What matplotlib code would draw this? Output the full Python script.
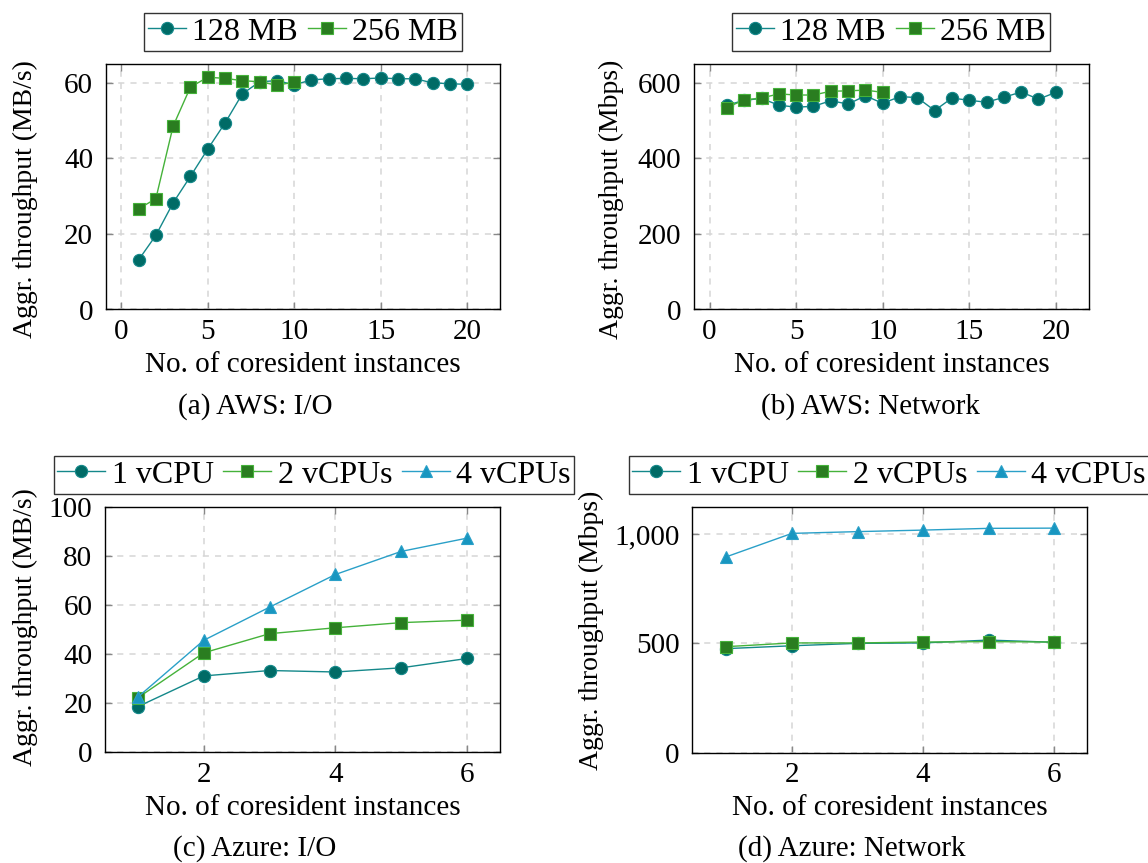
import matplotlib
matplotlib.use("Agg")
import matplotlib.pyplot as plt
from matplotlib.ticker import FuncFormatter

plt.rcParams['font.family'] = ['Liberation Serif', 'DejaVu Serif']
plt.rcParams['font.size'] = 21

W, H = 1148, 863

# AWS data
aws_x = list(range(1, 21))
aws_x256 = list(range(1, 11))
aws_io_128 = [13.1, 19.6, 28.2, 35.2, 42.4, 49.3, 57.0, 60.2, 60.5, 59.4,
              60.7, 61.0, 61.1, 61.0, 61.2, 61.0, 61.0, 59.9, 59.7, 59.5]
aws_io_256 = [26.6, 29.3, 48.5, 58.8, 61.4, 61.1, 60.5, 60.2, 59.3, 60.1]
aws_net_128 = [540, 553, 558, 540, 535, 537, 552, 543, 565, 545,
               563, 560, 526, 559, 553, 548, 561, 575, 556, 574]
aws_net_256 = [534, 554, 559, 570, 567, 567, 577, 578, 580, 574]

# Azure data
az_x = [1, 2, 3, 4, 5, 6]
az_io_1 = [18.6, 31.1, 33.3, 32.7, 34.4, 38.2]
az_io_2 = [22.2, 40.5, 48.3, 50.7, 52.8, 53.8]
az_io_4 = [22.5, 45.6, 59.1, 72.4, 81.8, 87.2]
az_net_1 = [476, 489, 500, 502, 515, 505]
az_net_2 = [485, 502, 502, 506, 508, 506]
az_net_4 = [896, 1003, 1011, 1018, 1026, 1027]

aws_labels = ["128 MB", "256 MB"]
az_labels = ["1 vCPU", "2 vCPUs", "4 vCPUs"]
captions = ["(a) AWS: I/O", "(b) AWS: Network", "(c) Azure: I/O", "(d) Azure: Network"]

# (line color, fill color, marker)
STYLES = [("#14888a", "#006b66", "o"),
          ("#45b23a", "#2a7d20", "s"),
          ("#2aa0c8", "#1896c0", "^")]
MSIZE = {"o": 8.8, "s": 8.0, "^": 8.6}


def make_axes(left, right, top, bottom):
    return fig.add_axes([left / W, 1 - bottom / H, (right - left) / W, (bottom - top) / H])


def style_axes(ax, xlim, ylim, xticks, yticks, ylabel, label_xy):
    ax.set_xlim(*xlim)
    ax.set_ylim(*ylim)
    ax.set_xticks(xticks)
    ax.set_yticks(yticks)
    ax.grid(True, color="#d6d6d6", linestyle=(0, (4, 4)), linewidth=1.1)
    ax.set_axisbelow(True)
    ax.tick_params(direction="in", top=True, right=True, length=5,
                   color="#888888", width=1.0)
    ax.tick_params(axis="x", pad=7)
    ax.tick_params(axis="y", pad=9)
    for s in ax.spines.values():
        s.set_linewidth(1.0)
        s.set_color("black")
    ax.set_xlabel("No. of coresident instances", labelpad=5)
    ax.set_ylabel(ylabel, fontsize=20)
    ax.yaxis.set_label_coords(label_xy[0] / W, 1 - label_xy[1] / H,
                              transform=fig.transFigure)


def plot_series(ax, x, y, i, label):
    lc, fc, m = STYLES[i]
    ax.plot(x, y, color=lc, linewidth=1.0, marker=m, markersize=MSIZE[m],
            markerfacecolor=fc, markeredgecolor=lc, markeredgewidth=0.8,
            label=label, clip_on=False)


def add_legend(ax, cx, cy, ncol, hlen):
    leg = ax.legend(loc="center", bbox_to_anchor=(cx / W, 1 - cy / H),
                    bbox_transform=fig.transFigure, ncol=ncol, frameon=True,
                    fancybox=False, edgecolor="black", borderpad=0.12,
                    handlelength=hlen, handletextpad=0.2, columnspacing=0.3,
                    borderaxespad=0, fontsize=23)
    leg.get_frame().set_linewidth(1.0)


fig = plt.figure(figsize=(W / 100, H / 100), dpi=100)

# (a) AWS I/O
ax = make_axes(105.7, 500, 64, 309.5)
plot_series(ax, aws_x, aws_io_128, 0, aws_labels[0])
plot_series(ax, aws_x256, aws_io_256, 1, aws_labels[1])
style_axes(ax, (-0.9, 21.9), (0, 64.9), [0, 5, 10, 15, 20], [0, 20, 40, 60],
           "Aggr. throughput (MB/s)", (38, 199))
add_legend(ax, 303, 32, 2, 1.2)

# (b) AWS network
ax = make_axes(694, 1088.7, 64, 309.5)
plot_series(ax, aws_x, aws_net_128, 0, aws_labels[0])
plot_series(ax, aws_x256, aws_net_256, 1, aws_labels[1])
style_axes(ax, (-0.9, 21.9), (0, 649), [0, 5, 10, 15, 20], [0, 200, 400, 600],
           "Aggr. throughput (Mbps)", (624, 199))
add_legend(ax, 891, 32, 2, 1.2)

# (c) Azure I/O
ax = make_axes(105, 500, 506.7, 752.3)
for i, ys in enumerate([az_io_1, az_io_2, az_io_4]):
    plot_series(ax, az_x, ys, i, az_labels[i])
style_axes(ax, (0.5, 6.5), (0, 100), [2, 4, 6], [0, 20, 40, 60, 80, 100],
           "Aggr. throughput (MB/s)", (38, 627))
add_legend(ax, 314, 475, 3, 1.5)

# (d) Azure network
ax = make_axes(692.3, 1087, 506.7, 752.7)
for i, ys in enumerate([az_net_1, az_net_2, az_net_4]):
    plot_series(ax, az_x, ys, i, az_labels[i])
style_axes(ax, (0.48, 6.5), (0, 1125), [2, 4, 6], [0, 500, 1000],
           "Aggr. throughput (Mbps)", (604, 630))
ax.yaxis.set_major_formatter(FuncFormatter(lambda v, p: "{:,.0f}".format(v)))
add_legend(ax, 889, 475, 3, 1.5)

cap_pos = [(255, 407), (870, 407), (255, 849), (852, 849)]
for (cx, cy), txt in zip(cap_pos, captions):
    fig.text(cx / W, 1 - cy / H, txt, ha="center", va="center")

fig.savefig("out.png", dpi=100)
